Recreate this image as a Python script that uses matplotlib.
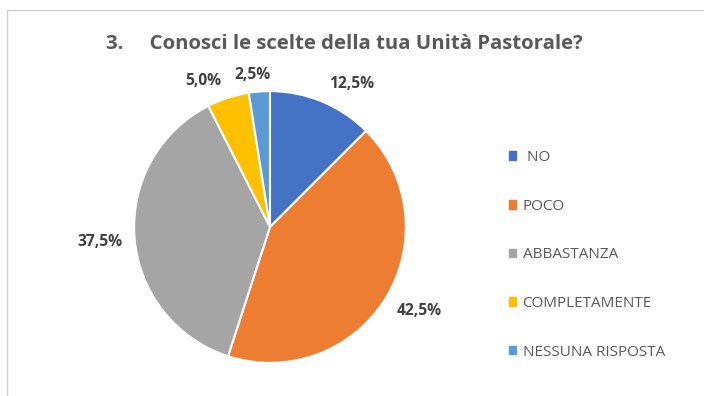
import matplotlib.pyplot as plt
import matplotlib.patches as mpatches
import numpy as np

plt.rcParams['font.family'] = ['Open Sans', 'DejaVu Sans']

categorie = [' NO', 'POCO', 'ABBASTANZA', 'COMPLETAMENTE', 'NESSUNA RISPOSTA']
percentuali = [12.5, 42.5, 37.5, 5.0, 2.5]
colori = ['#4472C4', '#ED7D31', '#A5A5A5', '#FFC000', '#5B9BD5']
# posizione delle etichette: distanza dal centro (in raggi) e scarto d'angolo (gradi)
dist_etichette = [1.21, 1.26, 1.258, 1.18, 1.13]
scarto_angolo = [-7.3, 2.2, 0.4, 6.5, 2.2]

fig = plt.figure(figsize=(7.04, 3.96), dpi=100)

# cornice del grafico
fig.patches.append(mpatches.Rectangle((7 / 704, -0.1), 1.2, 1 - 10 / 396 + 0.1,
                                      transform=fig.transFigure, fill=False,
                                      edgecolor='#D0D0D0', linewidth=1))

ax = fig.add_axes([0.3835 - 0.193, 0.4268 - 0.3435, 0.386, 0.687])
wedges, _ = ax.pie(percentuali, colors=colori, startangle=90, counterclock=False,
                   wedgeprops=dict(edgecolor='white', linewidth=1.5))
ax.set_xlim(-1, 1)
ax.set_ylim(-1, 1)
ax.set_aspect('equal')

for w, p, d, s in zip(wedges, percentuali, dist_etichette, scarto_angolo):
    ang = np.deg2rad((w.theta1 + w.theta2) / 2 + s)
    ax.text(d * np.cos(ang), d * np.sin(ang), f'{p:.1f}%'.replace('.', ','),
            ha='center', va='center', fontsize=11.2, fontweight='bold', color='#404040')

fig.text(106 / 704, 1 - 44 / 396, '3.     Conosci le scelte della tua Unità Pastorale?',
         fontsize=14.7, fontweight='bold', color='#595959', ha='left', va='center')

handles = [mpatches.Patch(color=c) for c in colori]
fig.legend(handles, categorie, loc='upper left', bbox_to_anchor=(0.714, 1 - 144 / 396),
           frameon=False, fontsize=11, labelcolor='#595959', handlelength=0.5,
           handleheight=0.5, handletextpad=0.4, labelspacing=2.2, borderaxespad=0)

fig.savefig('out.png', dpi=100)
